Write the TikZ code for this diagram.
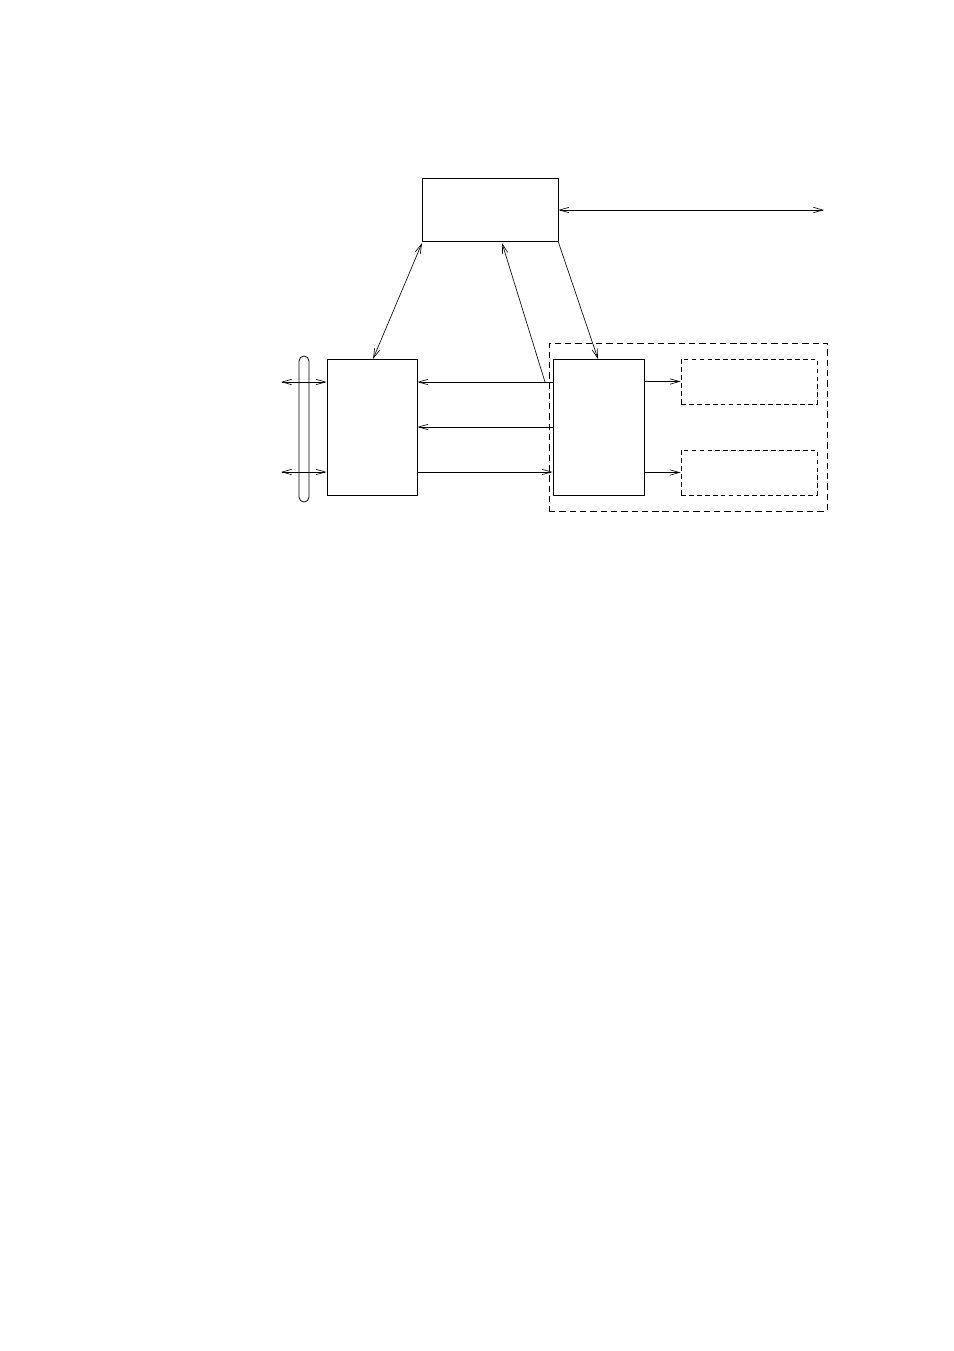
\documentclass[tikz,border=0pt]{standalone}
\usetikzlibrary{arrows.meta}
\begin{document}
\begin{tikzpicture}[x=0.63pt,y=-0.63pt,line width=0.5pt,
  >={Straight Barb[length=6pt,width=3.4pt,line width=0.4pt]},
  blk/.style={draw,inner sep=0pt},
  dbox/.style={draw,dashed,dash pattern=on 3pt off 2pt,inner sep=0pt},
  conn/.style={line width=0.4pt}]
\useasboundingbox (0,0) rectangle (954,1351);
% boxes
\node[blk,minimum width=136*0.63pt,minimum height=63*0.63pt] (top) at (490,209.5) {};
\node[blk,minimum width=90*0.63pt,minimum height=136*0.63pt] (B) at (372,427) {};
\node[blk,minimum width=91*0.63pt,minimum height=136*0.63pt] (C) at (598.5,427) {};
\node[dbox,dash pattern=on 4pt off 2.5pt,minimum width=278*0.63pt,minimum height=168*0.63pt] (grp) at (688,427) {};
\node[dbox,minimum width=136*0.63pt,minimum height=45*0.63pt] (S1) at (749,381.5) {};
\node[dbox,minimum width=136*0.63pt,minimum height=45*0.63pt] (S2) at (749,472.5) {};
% pill
\node[draw,rounded corners=5*0.63pt,minimum width=10*0.63pt,minimum height=146*0.63pt,inner sep=0pt] (pill) at (304,429) {};
% coordinates
\coordinate (ext) at (824,210);
\coordinate (L1) at (281,382);
\coordinate (L2) at (281,472);
\coordinate (J) at (545,382);
% connectors
\draw[conn,<->] (top.east |- ext) -- (ext);
\draw[conn,<->] (422,243) -- (373,359);
\draw[conn,->] (558,241) -- (598,359);
\draw[conn,->] (J) -- (502,243);
\draw[conn,->] (C.west |- J) -- (B.east |- J);
\draw[conn,->] (C.west |- 0,427) -- (B.east |- 0,427);
\draw[conn,->] (B.east |- 0,472) -- (C.west |- 0,472);
\draw[conn,->] (C.east |- S1.west) -- (S1.west);
\draw[conn,->] (C.east |- S2.west) -- (S2.west);
\draw[conn,<->] (L1) -- (B.west |- L1);
\draw[conn,<->] (L2) -- (B.west |- L2);
\end{tikzpicture}
\end{document}
